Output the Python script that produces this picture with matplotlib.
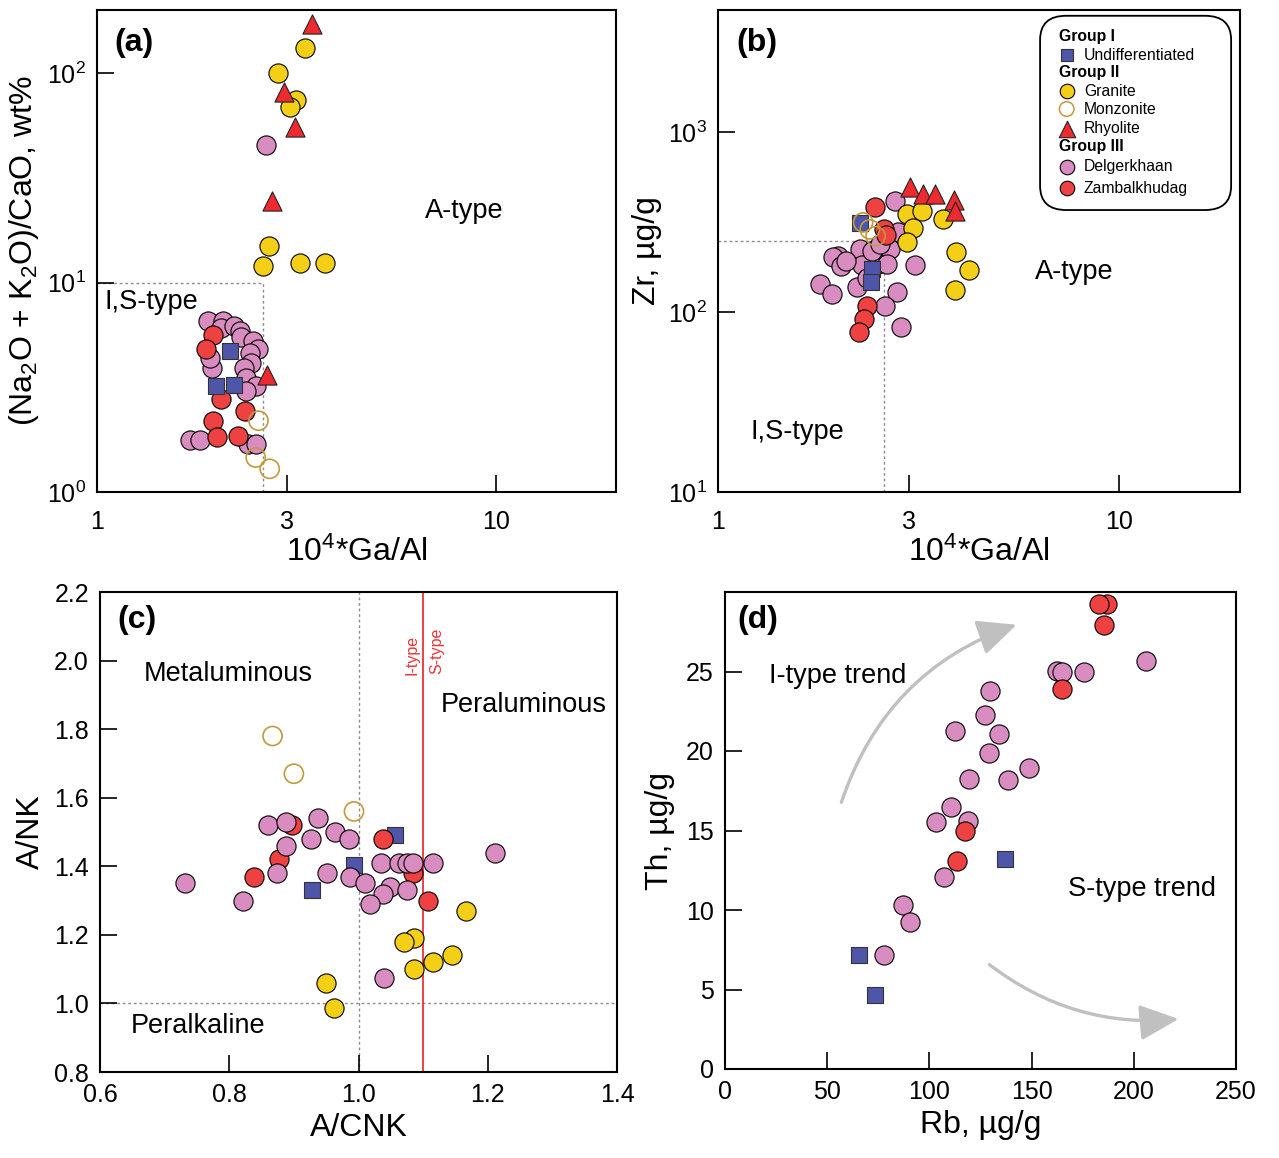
import matplotlib
matplotlib.use("Agg")
import matplotlib.pyplot as plt
from matplotlib.ticker import NullLocator, FixedLocator, FixedFormatter
from matplotlib.patches import FancyArrowPatch, FancyBboxPatch

plt.rcParams['font.family'] = ['Liberation Sans', 'DejaVu Sans']
plt.rcParams['mathtext.fontset'] = 'custom'
plt.rcParams['mathtext.rm'] = 'Liberation Sans'
plt.rcParams['mathtext.it'] = 'Liberation Sans:italic'
plt.rcParams['mathtext.bf'] = 'Liberation Sans:bold'

# ---------------- data ----------------
# Panel (a): 10^4*Ga/Al vs (Na2O+K2O)/CaO
a_undiff_x = [2.15, 1.99, 2.20]
a_undiff_y = [4.71, 3.21, 3.23]
a_granite_x = [3.32, 2.85, 3.15, 3.05, 2.70, 2.60, 3.23, 3.73]
a_granite_y = [132, 99.7, 74.4, 69.2, 14.9, 12.05, 12.4, 12.4]
a_monz_x = [2.54, 2.50, 2.71]
a_monz_y = [2.19, 1.46, 1.29]
a_rhy_x = [3.45, 2.94, 3.13, 2.74, 2.67]
a_rhy_y = [172, 81.5, 55.5, 24.6, 3.61]
a_delg_x = [2.66, 1.90, 2.07, 2.05, 2.20, 2.28, 2.29, 2.46, 2.54, 2.42, 2.43, 1.94, 1.92,
            2.33, 2.37, 2.51, 2.37, 1.71, 1.81, 2.39, 2.51]
a_delg_y = [45.1, 6.54, 6.54, 6.08, 6.2, 5.87, 5.51, 5.26, 4.80, 4.63, 4.15, 3.92, 4.38,
            3.92, 3.52, 3.21, 3.04, 1.77, 1.77, 1.69, 1.69]
a_zamb_x = [1.95, 1.88, 2.05, 2.35, 1.95, 2.00, 2.26]
a_zamb_y = [5.59, 4.80, 2.77, 2.44, 2.19, 1.83, 1.85]

# Panel (b): 10^4*Ga/Al vs Zr
b_undiff_x = [2.26, 2.42, 2.40]
b_undiff_y = [315, 173, 147]
b_granite_x = [2.96, 3.23, 3.06, 3.64, 2.96, 3.93, 4.23, 3.89]
b_granite_y = [350, 364, 293, 329, 246, 215, 172, 133]
b_monz_x = [2.30, 2.39, 2.47]
b_monz_y = [316, 289, 265]
b_rhy_x = [3.01, 3.24, 3.48, 3.87, 3.90]
b_rhy_y = [499, 453, 453, 421, 365]
b_delg_x = [2.76, 2.81, 2.68, 2.26, 1.99, 1.93, 2.03, 2.28, 2.50, 2.64, 3.10, 1.80, 1.92,
            2.22, 2.79, 2.61, 2.86, 2.42, 2.09, 2.53, 2.35]
b_delg_y = [414, 278, 224, 224, 205, 202, 180, 183, 185, 185, 183, 143, 126,
            138, 129, 108, 82.6, 218, 192, 239, 156]
b_zamb_x = [2.46, 2.59, 2.62, 2.35, 2.31, 2.24]
b_zamb_y = [385, 289, 268, 108, 91.5, 77.8]

# Panel (c): A/CNK vs A/NK
c_undiff_x = [1.057, 0.993, 0.928]
c_undiff_y = [1.49, 1.405, 1.33]
c_granite_x = [1.166, 1.086, 1.070, 1.145, 1.115, 1.086, 0.950, 0.962]
c_granite_y = [1.27, 1.19, 1.18, 1.14, 1.12, 1.10, 1.06, 0.987]
c_monz_x = [0.867, 0.900, 0.993]
c_monz_y = [1.78, 1.67, 1.56]
c_delg_x = [0.732, 0.822, 0.860, 0.888, 0.888, 0.874, 0.927, 0.938, 0.964, 0.985, 0.952,
            0.987, 1.010, 1.035, 1.048, 1.038, 1.018, 1.062, 1.075, 1.084, 1.075, 1.116,
            1.039, 1.211]
c_delg_y = [1.35, 1.30, 1.52, 1.53, 1.46, 1.38, 1.48, 1.54, 1.50, 1.48, 1.38,
            1.37, 1.35, 1.41, 1.34, 1.32, 1.29, 1.41, 1.41, 1.41, 1.33, 1.41,
            1.075, 1.44]
c_zamb_x = [0.897, 0.877, 0.839, 1.038, 1.084, 1.108]
c_zamb_y = [1.52, 1.42, 1.37, 1.48, 1.38, 1.30]

# Panel (d): Rb vs Th
d_undiff_x = [65.5, 73.3, 137.1]
d_undiff_y = [7.19, 4.68, 13.19]
d_delg_x = [205.8, 162.4, 165.0, 175.7, 129.6, 127.0, 112.6, 134.0, 129.4, 148.7, 119.6,
            138.4, 110.8, 103.3, 118.9, 106.9, 87.2, 90.6, 77.7]
d_delg_y = [25.66, 25.01, 25.0, 24.95, 23.75, 22.29, 21.25, 21.08, 19.89, 18.9, 18.21,
            18.15, 16.5, 15.52, 15.6, 12.07, 10.33, 9.26, 7.19]
d_zamb_x = [186.9, 183.0, 185.4, 164.9, 117.4, 113.6]
d_zamb_y = [29.25, 29.25, 27.94, 23.9, 14.97, 13.09]

# ---------------- styles ----------------
C_PINK = '#D98CC0'
C_RED = '#EE4242'
C_TRI = '#EC2A30'
C_YEL = '#F3CF17'
C_BLUE = '#4F55A8'
C_MONZ = '#C29A3C'
GREY = '#8C8C8C'

S_CIRC = 190
S_SQ = 120
S_TRI = 190
EW = 0.8

fig = plt.figure(figsize=(12.79, 11.58), dpi=100)
W, H = 1279.0, 1158.0


def add_ax(x0, y0, x1, y1):
    return fig.add_axes([x0 / W, 1 - y1 / H, (x1 - x0) / W, (y1 - y0) / H])


axA = add_ax(97, 10, 616, 492)
axB = add_ax(718, 10, 1240, 492)
axC = add_ax(100, 592, 617, 1072)
axD = add_ax(725, 592, 1236, 1069)

TICK_FS = 18
LAB_FS = 23
ANN_FS = 19.5
PAN_FS = 23


def style(ax, xpad=9):
    for sp in ax.spines.values():
        sp.set_linewidth(1.5)
    ax.tick_params(direction='in', length=12, width=1.2, labelsize=TICK_FS,
                   top=False, right=False, pad=8)
    ax.tick_params(axis='x', pad=xpad)
    ax.tick_params(which='minor', length=0)


def circ(ax, x, y, fc, z):
    ax.scatter(x, y, s=S_CIRC, marker='o', facecolor=fc, edgecolor='black',
               linewidth=EW, zorder=z)


def square(ax, x, y, z):
    ax.scatter(x, y, s=S_SQ, marker='s', facecolor=C_BLUE, edgecolor='#333333',
               linewidth=EW, zorder=z)


def monz(ax, x, y, z):
    ax.scatter(x, y, s=S_CIRC, marker='o', facecolor='none', edgecolor=C_MONZ,
               linewidth=1.2, zorder=z)


def tri(ax, x, y, z):
    ax.scatter(x, y, s=S_TRI, marker='^', facecolor=C_TRI, edgecolor='#222222',
               linewidth=EW, zorder=z)


# ---------------- panel (a) ----------------
ax = axA
style(ax, xpad=13)
ax.set_xscale('log')
ax.set_yscale('log')
ax.set_xlim(1, 20)
ax.set_ylim(1, 200)
ax.xaxis.set_major_locator(FixedLocator([1, 3, 10]))
ax.xaxis.set_major_formatter(FixedFormatter(['1', '3', '10']))
ax.xaxis.set_minor_locator(NullLocator())
ax.yaxis.set_major_locator(FixedLocator([1, 10, 100]))
ax.yaxis.set_major_formatter(FixedFormatter(['$10^0$', '$10^1$', '$10^2$']))
ax.yaxis.set_minor_locator(NullLocator())
ax.plot([1, 2.6], [10, 10], ls=(0, (2, 2)), color=GREY, lw=1, zorder=1)
ax.plot([2.6, 2.6], [1, 10], ls=(0, (2, 2)), color=GREY, lw=1, zorder=1)
circ(ax, a_delg_x, a_delg_y, C_PINK, 3)
circ(ax, a_zamb_x, a_zamb_y, C_RED, 4)
square(ax, a_undiff_x, a_undiff_y, 5)
circ(ax, a_granite_x, a_granite_y, C_YEL, 4)
monz(ax, a_monz_x, a_monz_y, 5)
tri(ax, a_rhy_x, a_rhy_y, 6)
ax.text(0.033, 0.932, '(a)', transform=ax.transAxes, fontsize=PAN_FS, fontweight='bold',
        ha='left', va='center')
ax.text(8.32, 22.0, 'A-type', fontsize=ANN_FS, ha='center', va='center')
ax.text(1.047, 8.03, 'I,S-type', fontsize=ANN_FS, ha='left', va='center')
ax.set_xlabel('10$^4$*Ga/Al', fontsize=LAB_FS, labelpad=2)
ax.set_ylabel('(Na$_2$O + K$_2$O)/CaO, wt%', fontsize=LAB_FS, labelpad=4)

# ---------------- panel (b) ----------------
ax = axB
style(ax, xpad=13)
ax.set_xscale('log')
ax.set_yscale('log')
ax.set_xlim(1, 20)
ax.set_ylim(10, 4800)
ax.xaxis.set_major_locator(FixedLocator([1, 3, 10]))
ax.xaxis.set_major_formatter(FixedFormatter(['1', '3', '10']))
ax.xaxis.set_minor_locator(NullLocator())
ax.yaxis.set_major_locator(FixedLocator([10, 100, 1000]))
ax.yaxis.set_major_formatter(FixedFormatter(['$10^1$', '$10^2$', '$10^3$']))
ax.yaxis.set_minor_locator(NullLocator())
ax.plot([1, 2.6], [250, 250], ls=(0, (2, 2)), color=GREY, lw=1, zorder=1)
ax.plot([2.6, 2.6], [10, 250], ls=(0, (2, 2)), color=GREY, lw=1, zorder=1)
circ(ax, b_delg_x, b_delg_y, C_PINK, 3)
square(ax, b_undiff_x, b_undiff_y, 4)
circ(ax, b_zamb_x, b_zamb_y, C_RED, 5)
circ(ax, b_granite_x, b_granite_y, C_YEL, 4)
monz(ax, b_monz_x, b_monz_y, 6)
tri(ax, b_rhy_x, b_rhy_y, 6)
ax.text(0.036, 0.932, '(b)', transform=ax.transAxes, fontsize=PAN_FS, fontweight='bold',
        ha='left', va='center')
ax.text(7.71, 167, 'A-type', fontsize=ANN_FS, ha='center', va='center')
ax.text(1.578, 21.5, 'I,S-type', fontsize=ANN_FS, ha='center', va='center')
ax.set_xlabel('10$^4$*Ga/Al', fontsize=LAB_FS, labelpad=2)
ax.set_ylabel('Zr, µg/g', fontsize=LAB_FS, labelpad=4)

# legend (manual, rounded box)
lg = FancyBboxPatch((0.617, 0.585), 0.366, 0.403, boxstyle='round,pad=0,rounding_size=0.05',
                    transform=ax.transAxes, facecolor='white', edgecolor='black',
                    linewidth=1.3, zorder=10)
ax.add_patch(lg)
LFS = 11.3
hx, mx, tx = 0.653, 0.668, 0.701


def fy(py):
    return (492 - py) / 482.0


ax.text(hx, fy(36), 'Group I', transform=ax.transAxes, fontsize=LFS, fontweight='bold',
        va='center', ha='left', zorder=11)
ax.scatter([mx], [fy(55)], s=70, marker='s', facecolor=C_BLUE, edgecolor='#333333',
           linewidth=EW, transform=ax.transAxes, zorder=11, clip_on=False)
ax.text(tx, fy(55), 'Undifferentiated', transform=ax.transAxes, fontsize=LFS,
        va='center', ha='left', zorder=11)
ax.text(hx, fy(73), 'Group II', transform=ax.transAxes, fontsize=LFS, fontweight='bold',
        va='center', ha='left', zorder=11)
ax.scatter([mx], [fy(91)], s=110, marker='o', facecolor=C_YEL, edgecolor='black',
           linewidth=EW, transform=ax.transAxes, zorder=11, clip_on=False)
ax.text(tx, fy(91), 'Granite', transform=ax.transAxes, fontsize=LFS,
        va='center', ha='left', zorder=11)
ax.scatter([mx], [fy(109)], s=110, marker='o', facecolor='none', edgecolor=C_MONZ,
           linewidth=1.1, transform=ax.transAxes, zorder=11, clip_on=False)
ax.text(tx, fy(109), 'Monzonite', transform=ax.transAxes, fontsize=LFS,
        va='center', ha='left', zorder=11)
ax.scatter([mx], [fy(129)], s=140, marker='^', facecolor=C_TRI, edgecolor='#222222',
           linewidth=EW, transform=ax.transAxes, zorder=11, clip_on=False)
ax.text(tx, fy(129), 'Rhyolite', transform=ax.transAxes, fontsize=LFS,
        va='center', ha='left', zorder=11)
ax.text(hx, fy(147), 'Group III', transform=ax.transAxes, fontsize=LFS, fontweight='bold',
        va='center', ha='left', zorder=11)
ax.scatter([mx], [fy(167)], s=110, marker='o', facecolor=C_PINK, edgecolor='black',
           linewidth=EW, transform=ax.transAxes, zorder=11, clip_on=False)
ax.text(tx, fy(167), 'Delgerkhaan', transform=ax.transAxes, fontsize=LFS,
        va='center', ha='left', zorder=11)
ax.scatter([mx], [fy(188)], s=110, marker='o', facecolor=C_RED, edgecolor='black',
           linewidth=EW, transform=ax.transAxes, zorder=11, clip_on=False)
ax.text(tx, fy(188), 'Zambalkhudag', transform=ax.transAxes, fontsize=LFS,
        va='center', ha='left', zorder=11)

# ---------------- panel (c) ----------------
ax = axC
style(ax, xpad=8)
ax.set_xlim(0.6, 1.4)
ax.set_ylim(0.8, 2.2)
ax.set_xticks([0.6, 0.8, 1.0, 1.2, 1.4])
ax.set_xticklabels(['0.6', '0.8', '1.0', '1.2', '1.4'])
ax.set_yticks([0.8, 1.0, 1.2, 1.4, 1.6, 1.8, 2.0, 2.2])
ax.set_yticklabels(['0.8', '1.0', '1.2', '1.4', '1.6', '1.8', '2.0', '2.2'])
ax.axhline(1.0, ls=(0, (2, 2)), color=GREY, lw=1, zorder=1)
ax.axvline(1.0, ls=(0, (2, 2)), color=GREY, lw=1, zorder=1)
ax.axvline(1.1, color='#E8343A', lw=1.3, zorder=1)
square(ax, c_undiff_x, c_undiff_y, 3)
circ(ax, c_zamb_x, c_zamb_y, C_RED, 4)
circ(ax, c_delg_x, c_delg_y, C_PINK, 5)
circ(ax, c_granite_x, c_granite_y, C_YEL, 5)
monz(ax, c_monz_x, c_monz_y, 5)
ax.text(0.033, 0.942, '(c)', transform=ax.transAxes, fontsize=PAN_FS, fontweight='bold',
        ha='left', va='center')
ax.text(0.799, 1.962, 'Metaluminous', fontsize=ANN_FS, ha='center', va='center')
ax.text(1.255, 1.869, 'Peraluminous', fontsize=ANN_FS, ha='center', va='center')
ax.text(0.7525, 0.933, 'Peralkaline', fontsize=ANN_FS, ha='center', va='center')
ax.text(1.0835, 2.016, 'I-type', fontsize=11.5, color='#E8343A', rotation=90,
        ha='center', va='center')
ax.text(1.121, 2.028, 'S-type', fontsize=11.5, color='#E8343A', rotation=90,
        ha='center', va='center')
ax.set_xlabel('A/CNK', fontsize=LAB_FS, labelpad=4)
ax.set_ylabel('A/NK', fontsize=LAB_FS, labelpad=6)

# ---------------- panel (d) ----------------
ax = axD
style(ax, xpad=8)
ax.set_xlim(0, 250)
ax.set_ylim(0, 30)
ax.set_xticks([0, 50, 100, 150, 200, 250])
ax.set_yticks([0, 5, 10, 15, 20, 25])
circ(ax, d_delg_x, d_delg_y, C_PINK, 3)
circ(ax, d_zamb_x, d_zamb_y, C_RED, 4)
square(ax, d_undiff_x, d_undiff_y, 4)
arrow_kw = dict(arrowstyle='-|>,head_length=1.2,head_width=0.55', color='#C0C0C0',
                lw=2.4, mutation_scale=20, zorder=2)
ax.add_patch(FancyArrowPatch((56.5, 16.6), (144.0, 28.0),
                             connectionstyle='arc3,rad=-0.25', **arrow_kw))
ax.add_patch(FancyArrowPatch((128.3, 6.67), (223.3, 3.16),
                             connectionstyle='arc3,rad=0.2', **arrow_kw))
ax.text(0.025, 0.941, '(d)', transform=ax.transAxes, fontsize=PAN_FS, fontweight='bold',
        ha='left', va='center')
ax.text(55.3, 24.7, 'I-type trend', fontsize=ANN_FS, ha='center', va='center')
ax.text(204.2, 11.3, 'S-type trend', fontsize=ANN_FS, ha='center', va='center')
ax.set_xlabel('Rb, µg/g', fontsize=LAB_FS, labelpad=4)
ax.set_ylabel('Th, µg/g', fontsize=LAB_FS, labelpad=8)

fig.savefig('out.png', dpi=100)
